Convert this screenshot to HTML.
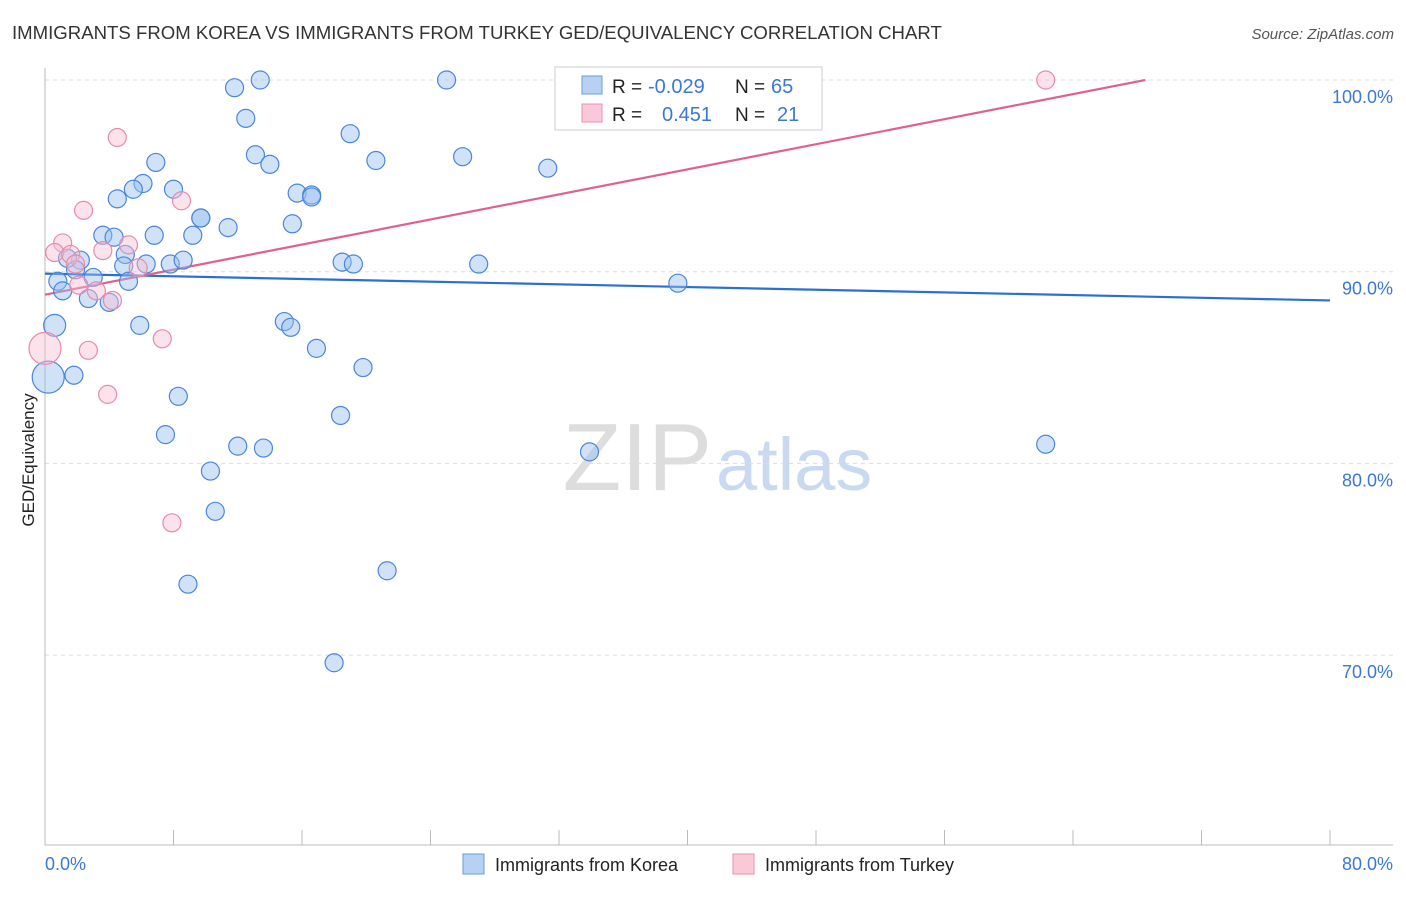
<!DOCTYPE html>
<html><head><meta charset="utf-8"><style>
body{margin:0;background:#fff;font-family:"Liberation Sans",sans-serif;}
svg text{font-family:"Liberation Sans",sans-serif;}
</style></head><body>
<svg id="chart" width="1406" height="892" xmlns="http://www.w3.org/2000/svg">
<text x="12" y="39" font-size="18.6" fill="#333">IMMIGRANTS FROM KOREA VS IMMIGRANTS FROM TURKEY GED/EQUIVALENCY CORRELATION CHART</text>
<text x="1394" y="39" font-size="15" fill="#555" text-anchor="end" font-style="italic">Source: ZipAtlas.com</text>
<text x="712" y="490" font-size="96" fill="#ddd" text-anchor="end" font-family="Liberation Serif">ZIP</text>
<text x="716" y="490" font-size="74" fill="#c9d9f0">atlas</text>
<g id="grid"></g>
<line x1="45" y1="68" x2="45" y2="845" stroke="#bbb"/>
<line x1="45" y1="845" x2="1393" y2="845" stroke="#bbb"/>
<text x="34" y="460" font-size="17" fill="#222" text-anchor="middle" transform="rotate(-90 34 460)">GED/Equivalency</text>
<text x="45" y="870" font-size="18" fill="#3a78d8">0.0%</text>
<text x="1393" y="870" font-size="18" fill="#3a78d8" text-anchor="end">80.0%</text>
<g id="lines"></g>
<g id="pts"></g>
<g>
<rect x="555" y="67" width="267" height="63" fill="#fff" stroke="#ccc"/>
<rect x="582" y="76" width="20" height="18" fill="#b7d1f3" stroke="#6a9ae0"/>
<rect x="582" y="104" width="20" height="18" fill="#f9c9d8" stroke="#ec8fae"/>
<text x="612" y="93" font-size="19" fill="#222">R =</text>
<text x="648" y="93" font-size="20" fill="#3a78d8">-0.029</text>
<text x="735" y="93" font-size="19" fill="#222">N =</text>
<text x="771" y="93" font-size="20" fill="#3a78d8">65</text>
<text x="612" y="121" font-size="19" fill="#222">R =</text>
<text x="662" y="121" font-size="20" fill="#3a78d8">0.451</text>
<text x="735" y="121" font-size="19" fill="#222">N =</text>
<text x="777" y="121" font-size="20" fill="#3a78d8">21</text>
</g>
<g>
<rect x="463" y="854" width="21" height="20" fill="#b7d1f3" stroke="#6a9ae0"/>
<text x="495" y="871" font-size="18" fill="#222">Immigrants from Korea</text>
<rect x="733" y="854" width="21" height="20" fill="#f9c9d8" stroke="#ec8fae"/>
<text x="765" y="871" font-size="18" fill="#222">Immigrants from Turkey</text>
</g>
</svg>
<script>
const yTicks=[100,90,80,70];
const xTicks=[0,8,16,24,32,40,48,56,64,72,80];
const koreaX=[11.8,13.4,25.0,12.5,19.0,13.1,14.0,6.9,20.6,26.0,31.3,6.1,5.5,8.0,4.5,15.7,16.6,16.6,9.7,9.7,11.4,15.4,3.6,4.3,6.8,9.2,5.0,2.2,1.4,6.3,7.8,8.6,18.5,19.2,27.0,4.9,1.9,3.0,0.8,5.2,39.4,1.1,2.7,4.0,5.9,0.6,14.9,15.3,16.9,19.8,0.2,1.8,8.3,18.4,7.5,12.0,13.6,33.9,62.3,10.3,10.6,21.3,8.9,18.0];
const koreaY=[99.6,100,100,98.0,97.2,96.1,95.6,95.7,95.8,96.0,95.4,94.6,94.3,94.3,93.8,94.1,94.0,93.9,92.8,92.8,92.3,92.5,91.9,91.8,91.9,91.9,90.9,90.6,90.7,90.4,90.4,90.6,90.5,90.4,90.4,90.3,90.1,89.7,89.5,89.5,89.4,89.0,88.6,88.4,87.2,87.2,87.4,87.1,86.0,85.0,84.5,84.6,83.5,82.5,81.5,80.9,80.8,80.6,81.0,79.6,77.5,74.4,73.7,69.6];
const koreaR=[9,9,9,9,9,9,9,9,9,9,9,9,9,9,9,9,9,9,9,9,9,9,9,9,9,9,9,9,9,9,9,9,9,9,9,9,9,9,9,9,9,9,9,9,9,11,9,9,9,9,16,9,9,9,9,9,9,9,9,9,9,9,9,9];
const turkeyX=[4.5,2.4,8.5,1.1,5.2,0.6,1.6,3.6,1.9,5.8,2.1,3.2,4.2,7.3,2.7,0,3.9,7.9,62.3];
const turkeyY=[97.0,93.2,93.7,91.5,91.4,91.0,90.9,91.1,90.4,90.2,89.3,89.0,88.5,86.5,85.9,86.0,83.6,76.9,100];
const turkeyR=[9,9,9,9,9,9,9,9,9,9,9,9,9,9,9,16,9,9,9];
const koreaLine=[[0,89.9],[80,88.5]];
const turkeyLine=[[0,88.8],[68.5,100]];
const X=v=>45+v/80*1285, Y=v=>80+(100-v)*19.17;
const NS="http://www.w3.org/2000/svg";
const mk=(t,a,p)=>{const e=document.createElementNS(NS,t);for(const k in a)e.setAttribute(k,a[k]);p.appendChild(e);return e;};
const grid=document.getElementById('grid');
yTicks.forEach(t=>{
 const l=mk('line',{x1:45,x2:1393,y1:Y(t),y2:Y(t),stroke:'#ddd','stroke-dasharray':'4 4'},grid);
 
 
 const tx=mk('text',{x:1393,y:Y(t)+23,'font-size':18,fill:'#3a78d8','text-anchor':'end'},grid);
 tx.textContent=t.toFixed(1)+'%';
 
 
});
xTicks.forEach(t=>{
 const l=mk('line',{x1:X(t),x2:X(t),y1:830,y2:845,stroke:'#bbb'},grid);
 
 
});
const pts=document.getElementById('pts');
koreaX.forEach((x,i)=>{
 const c=mk('circle',{cx:X(x),cy:Y(koreaY[i]),r:koreaR[i],fill:'rgba(150,190,240,0.45)',stroke:'#4a86dc','stroke-width':1.2},pts);
 
 
});
turkeyX.forEach((x,i)=>{
 const c=mk('circle',{cx:X(x),cy:Y(turkeyY[i]),r:turkeyR[i],fill:'rgba(248,190,210,0.45)',stroke:'#e98aaa','stroke-width':1.2},pts);
 
 
});
const lines=document.getElementById('lines');
const kl=mk('line',{x1:X(koreaLine[0][0]),y1:Y(koreaLine[0][1]),x2:X(koreaLine[1][0]),y2:Y(koreaLine[1][1]),stroke:'#2a6fd6','stroke-width':2.2},lines);


const tl=mk('line',{x1:X(turkeyLine[0][0]),y1:Y(turkeyLine[0][1]),x2:X(turkeyLine[1][0]),y2:Y(turkeyLine[1][1]),stroke:'#e0628a','stroke-width':2.2},lines);


</script>
</body></html>
